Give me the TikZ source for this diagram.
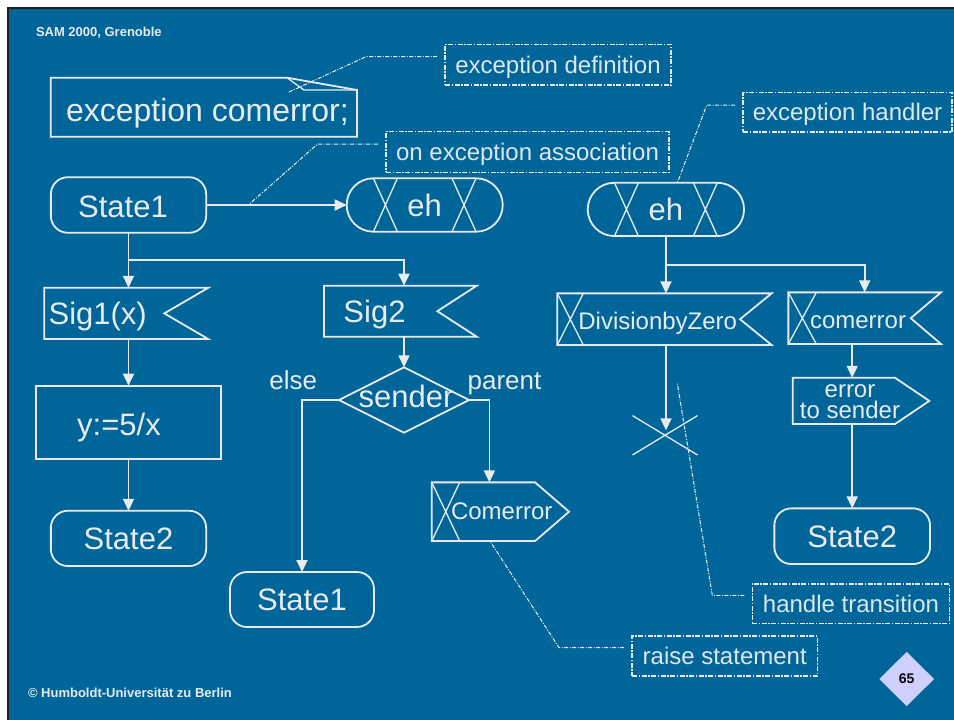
\documentclass[tikz,border=0pt]{standalone}
\usepackage{fontspec}
\setmainfont{Liberation Sans}
\usetikzlibrary{arrows.meta,calc,shapes.geometric}
\definecolor{slideblue}{RGB}{0,102,153}
\definecolor{ink}{RGB}{232,234,236}
\definecolor{notegrey}{RGB}{222,230,236}
\definecolor{tagfill}{RGB}{208,208,255}
\definecolor{frameline}{RGB}{30,30,30}

% input signal: box with a notch cut into its right side
\newcommand\insignal[2]{\draw[line] (#1.north west) -- (#1.north east) -- ([xshift=-#2]#1.east) -- (#1.south east) -- (#1.south west) -- cycle;}
% output signal: box with a pointed right side
\newcommand\outsignal[2]{\draw[line] (#1.north west) -- ([xshift=-#2]#1.north east) -- (#1.east) -- ([xshift=-#2]#1.south east) -- (#1.south west) -- cycle;}
% crossed field at the left end of a signal box
\newcommand\crossbox[2]{\draw[thinline] (#1.north west) -- ([xshift=#2]#1.south west) ([xshift=#2]#1.north west) -- (#1.south west);}
% crossed fields at both ends of an exception handler
\newcommand\handlerbars[1]{\draw[thinline]
  ([xshift=26.7pt]#1.north west) -- ([xshift=50.7pt]#1.south west)
  ([xshift=50.7pt]#1.north west) -- ([xshift=26.7pt]#1.south west)
  ([xshift=-50.7pt]#1.north east) -- ([xshift=-26.7pt]#1.south east)
  ([xshift=-26.7pt]#1.north east) -- ([xshift=-50.7pt]#1.south east);}

\begin{document}
\begin{tikzpicture}[x=1pt,y=-1pt,
  every node/.style={text=ink, inner sep=0pt, outer sep=0pt},
  big/.style={font=\fontsize{31}{34}\selectfont, text height=22.3pt, text depth=0pt},
  mid/.style={font=\fontsize{24}{26}\selectfont, text height=17.3pt, text depth=0pt},
  branchtag/.style={font=\fontsize{26}{28}\selectfont, text height=18.7pt, text depth=0pt},
  line/.style={draw=ink, line width=1.8pt},
  thinline/.style={draw=ink, line width=1.3pt},
  flow/.style={line, -{Triangle[length=12pt,width=11pt]}},
  state/.style={line, big, rounded corners=17pt},
  handler/.style={line, big, rounded corners=26.6pt},
  note/.style={draw=ink, line width=1.5pt, dash pattern=on 5pt off 1.5pt on 1.5pt off 1.5pt, mid, text=notegrey},
  leader/.style={draw=ink, line width=1pt, dash pattern=on 4pt off 1.5pt on 1pt off 1.5pt},
  small/.style={font=\bfseries\fontsize{13}{15}\selectfont}
]
% slide background and frame
\fill[white] (0,0) rectangle (954,720);
\fill[frameline] (6.5,6.5) rectangle (954,720);
\fill[slideblue] (9,9) rectangle (954,720);
\useasboundingbox (0,0) rectangle (954,720);

% header and footer
\node[small, anchor=west] (venue) at (36,32.5) {SAM 2000, Grenoble};
\node[small, anchor=west] (copyright) at (28,693) {© Humboldt-Universität zu Berlin};

% exception declaration (text symbol with folded corner)
\node[big, font=\fontsize{32}{34}\selectfont, anchor=west] (decl) at (66,110) {exception comerror;};
\draw[line] (50.7,77.7) -- (287,77.7) -- (357,90) -- (357,136.7) -- (50.7,136.7) -- cycle;
\draw[thinline] (287,77.7) -- (304,90) -- (357,90);
\coordinate (declfold) at (289,92);

% left process part
\node[state, minimum width=155.3pt, minimum height=55.6pt] (stateA) at (128.5,205) {};
\node[big] (stateAtext) at (123,206.5) {State1};
\node[handler, minimum width=156pt, minimum height=53.4pt] (ehA) at (424.7,205) {eh};
\handlerbars{ehA}

\node[minimum width=164pt, minimum height=51.3pt] (sigone) at (126.3,313.4) {};
\insignal{sigone}{44pt}
\node[big] (sigonetext) at (97.7,313.4) {Sig1(x)};

\node[line, minimum width=185pt, minimum height=73.6pt] (assign) at (128.5,422.5) {};
\node[big] (assigntext) at (119,424) {y:=5/x};

\node[state, minimum width=155.3pt, minimum height=55.3pt] (stateB) at (128.5,538.4) {State2};

\node[minimum width=152.7pt, minimum height=51pt] (sigtwo) at (400.4,311.2) {};
\insignal{sigtwo}{39.4pt}
\node[big] (sigtwotext) at (374.5,311.2) {Sig2};

\node[diamond, line, aspect=2, minimum width=130pt, minimum height=65.4pt] (sender) at (404,400) {};
\node[big, anchor=base] (sendertext) at (406,407.7) {sender};
\node[branchtag, anchor=base] (elsetag) at (293.3,389.3) {else};
\node[branchtag, anchor=base] (parenttag) at (504.5,389.3) {parent};

\node[minimum width=137.3pt, minimum height=58.7pt] (raiseout) at (500.4,511.7) {};
\outsignal{raiseout}{34pt}
\crossbox{raiseout}{28pt}
\node[mid] (raisetext) at (501.7,510.7) {Comerror};

\node[state, minimum width=144pt, minimum height=55pt] (stateC) at (302,599.5) {State1};

% exception handler part
\node[handler, minimum width=156.3pt, minimum height=53.3pt] (ehB) at (665.9,209.4) {eh};
\handlerbars{ehB}

\node[minimum width=214.4pt, minimum height=51.7pt] (divzero) at (664.5,319.2) {};
\insignal{divzero}{31.7pt}
\crossbox{divzero}{26pt}
\node[mid] (divzerotext) at (657.7,320.7) {DivisionbyZero};

\node[minimum width=65pt, minimum height=39.4pt] (stop) at (665,435.3) {};
\draw[thinline] (stop.north west) -- (stop.south east) (stop.south west) -- (stop.north east);

\node[minimum width=152.7pt, minimum height=51.7pt] (comerr) at (864.7,318.2) {};
\insignal{comerr}{30.3pt}
\crossbox{comerr}{28pt}
\node[mid] (comerrtext) at (858,319.7) {comerror};

\node[minimum width=136.6pt, minimum height=46.3pt] (errsend) at (861,400.9) {};
\outsignal{errsend}{34.3pt}
\node[font=\fontsize{24}{21}\selectfont, align=center] (errsendtext) at (850,402) {error\\to sender};

\node[state, minimum width=155.7pt, minimum height=55.7pt] (stateD) at (852.2,536.2) {State2};

% flow lines
\draw[flow] (stateA.east) -- (ehA.west);
\coordinate (forkA) at (128.5,260);
\draw[line] (stateA.south) -- (forkA);
\draw[flow] (forkA) -- (forkA |- sigone.north);
\draw[flow] (forkA) -| (sender.north |- sigtwo.north);
\draw[flow] (forkA |- sigone.south) -- (assign.north);
\draw[flow] (assign.south) -- (stateB.north);
\draw[flow] (sender.north |- sigtwo.south) -- (sender.north);
\draw[flow] (sender.west) -| (stateC.north);
\draw[flow] (sender.east) -| ([xshift=-11pt]raiseout.north);

\coordinate (forkB) at (666,265);
\draw[line] (ehB.south -| forkB) -- (forkB);
\draw[flow] (forkB) -- (forkB |- divzero.north);
\draw[flow] (forkB) -| (comerr.north);
\draw[flow] (forkB |- divzero.south) -- ($(forkB |- stop.center)+(0,-5)$);
\draw[flow] (stateD.north |- comerr.south) -- (stateD.north |- errsend.north);
\draw[flow] (stateD.north |- errsend.south) -- (stateD.north);

% annotations
\node[note, minimum width=226pt, minimum height=40.7pt] (defnote) at (558,64.7) {exception definition};
\node[note, minimum width=283pt, minimum height=40.6pt] (assocnote) at (527.5,152) {on exception association};
\node[note, minimum width=209pt, minimum height=39.7pt] (handlernote) at (847.5,112.2) {exception handler};
\node[note, minimum width=197.4pt, minimum height=39.3pt] (transnote) at (851,603.7) {handle transition};
\node[note, minimum width=185.3pt, minimum height=39.7pt] (raisenote) at (724.7,656) {raise statement};

\draw[leader] ($(defnote.west)+(-8,-8)$) -- ++(-71,0) -- (declfold);
\draw[leader] ($(assocnote.west)+(-8,-8)$) -- ++(-60.4,0) -- ($(stateA.east)!0.3!(ehA.west)$);
\draw[leader] ($(handlernote.west)+(-8,-7)$) -- ++(-28.3,0) -- ($(ehB.north)+(11.5,0)$);
\coordinate (deadend) at (677.3,383.3);
\draw[leader] ($(transnote.west)+(-8,-8.4)$) -- ++(-32,0) -- (deadend);
\draw[leader] ($(raisenote.west)+(-8,-8.3)$) -- ++(-65,0) -- ($(raiseout.south)+(-10.4,0)$);

% page number tag
\node[diamond, fill=tagfill, aspect=1, minimum width=54.7pt, minimum height=54.3pt, text=black, font=\bfseries\fontsize{14}{16}\selectfont] (pageno) at (906.7,679) {65};
\end{tikzpicture}
\end{document}
